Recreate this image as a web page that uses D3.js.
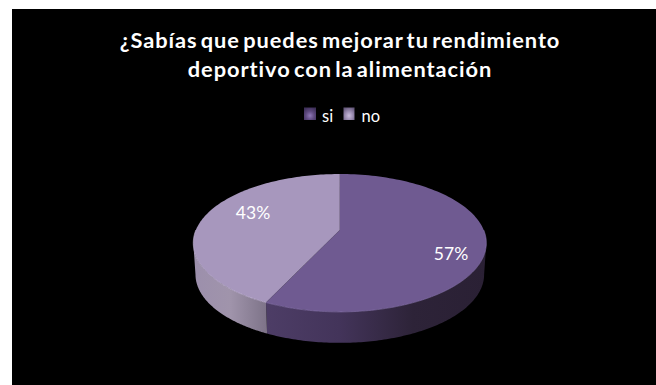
<!DOCTYPE html>
<html>
<head>
<meta charset="utf-8">
<script src="https://d3js.org/d3.v7.min.js"></script>
<style>
  html, body { margin: 0; padding: 0; background: #fff; }
  svg { display: block; }
  text { font-family: Lato, "Open Sans", sans-serif; fill: #fff; }
</style>
</head>
<body>
<svg id="chart" width="656" height="385"></svg>
<script>
const categories = ["si", "no"];
const shares = [57, 43];
const titleLines = ["¿Sabías que puedes mejorar tu rendimiento", "deportivo con la alimentación"];
const topColors = ["#6f5a91", "#a797bd"];
const rimColors = ["#8873ab", "#cdbfe0"];
const wallStops = [
  ["#4d3d66", "#43345a", "#2d2338", "#2a2034"],
  ["#9c8fac", "#a094ab", "#7d7388"]
];
const swatchStops = [
  ["#9079b8", "#5f4a80", "#3d2f58"],
  ["#c9bcdc", "#9a8bb0", "#66597c"]
];

const svg = d3.select("#chart");
const defs = svg.append("defs");

// Dark panel, flush with the right and bottom edges
svg.append("rect").attr("x", 12).attr("y", 9).attr("width", 644).attr("height", 376).attr("fill", "#000");

// Pie seen in perspective: unit circle on a tilted plane projected to the screen
const centerX = 339.8, centerY = 230, radiusX = 143.9, radiusY = 66.5, tilt = 0.188;
const wallDepth = 31, baseShrink = 0.985;

function project(angle, bottom) {
  const u = Math.sin(angle), v = Math.cos(angle), w = 1 + tilt * v;
  const s = bottom ? baseShrink : 1;
  return [centerX + s * radiusX * u / w,
          centerY - s * radiusY * v / w + (bottom ? wallDepth + (1 - v) * 0.6 : 0)];
}

const slices = d3.pie().sort(null).value(d => d)(shares);
const samples = (a, b) => d3.range(0, 121).map(i => a + (b - a) * i / 120);
const line = d3.line();

// Visible part of each wall: the stretch of rim on the near side of the widest points
const frontStart = Math.PI / 2 + 0.19, frontEnd = 3 * Math.PI / 2 - 0.19;
slices.forEach((s, i) => {
  const a0 = Math.max(s.startAngle, frontStart), a1 = Math.min(s.endAngle, frontEnd);
  const angles = samples(a0, a1);
  const upper = angles.map(a => project(a, false));
  const lower = angles.map(a => project(a, true)).reverse();
  const xs = upper.concat(lower).map(p => p[0]);
  const grad = defs.append("linearGradient").attr("id", `wall-${i}`)
    .attr("gradientUnits", "userSpaceOnUse")
    .attr("x1", d3.min(xs)).attr("x2", d3.max(xs)).attr("y1", 0).attr("y2", 0);
  wallStops[i].forEach((c, j, all) => grad.append("stop").attr("offset", j / (all.length - 1)).attr("stop-color", c));
  svg.append("path").attr("d", line(upper.concat(lower)) + "Z").attr("fill", `url(#wall-${i})`);
});

// Top face and its thin light rim
const hubPoint = [centerX, centerY];
slices.forEach((s, i) => {
  const rim = samples(s.startAngle, s.endAngle).map(a => project(a, false));
  svg.append("path").attr("d", line([hubPoint, ...rim]) + "Z").attr("fill", topColors[i]);
  const near = samples(Math.max(s.startAngle, Math.PI / 2), Math.min(s.endAngle, 3 * Math.PI / 2)).map(a => project(a, false));
  svg.append("path").attr("d", line(near)).attr("fill", "none")
    .attr("stroke", rimColors[i]).attr("stroke-width", 0.8).attr("stroke-opacity", 0.8);
});

// Percentage labels
const labelPositions = [[451, 260], [253, 219]];
slices.forEach((s, i) => {
  svg.append("text").attr("x", labelPositions[i][0]).attr("y", labelPositions[i][1])
    .attr("text-anchor", "middle").attr("font-size", 17.5).text(`${shares[i]}%`);
});

// Title
titleLines.forEach((t, i) => {
  svg.append("text").attr("x", 340).attr("y", 47.5 + i * 29.5)
    .attr("text-anchor", "middle").attr("font-size", 21.8).attr("font-weight", 700)
    .attr("letter-spacing", 0.95).attr("word-spacing", -3).text(t);
});

// Legend
const swatchX = [304, 343.5], labelX = [322, 361.5], swatchW = [12, 11];
categories.forEach((c, i) => {
  const grad = defs.append("radialGradient").attr("id", `swatch-${i}`)
    .attr("cx", "50%").attr("cy", "65%").attr("r", "70%");
  swatchStops[i].forEach((col, j, all) => grad.append("stop").attr("offset", j / (all.length - 1)).attr("stop-color", col));
  svg.append("rect").attr("x", swatchX[i]).attr("y", 107.5).attr("width", swatchW[i]).attr("height", 12.5)
    .attr("fill", `url(#swatch-${i})`);
  svg.append("text").attr("x", labelX[i]).attr("y", 121.5).attr("font-size", 16.5).text(c);
});
</script>
</body>
</html>
